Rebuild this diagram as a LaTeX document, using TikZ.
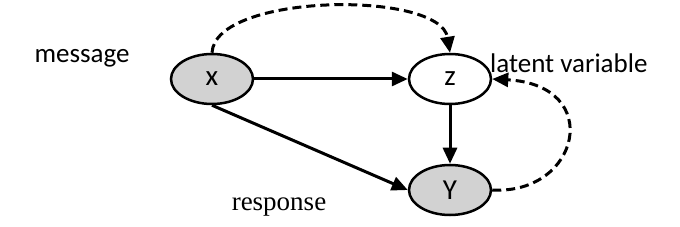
\documentclass[tikz,border=0pt]{standalone}
\usepackage{fontspec}
\setmainfont{Carlito}
\newfontfamily\serifr{Liberation Serif}
\usetikzlibrary{shapes.geometric,arrows.meta}
\definecolor{nodegrey}{RGB}{210,210,210}
\tikzset{
  var/.style={ellipse, draw, line width=2.5pt, minimum width=82pt, minimum height=50pt, inner sep=0pt, font=\fontsize{29}{34}\selectfont},
  obs/.style={var, fill=nodegrey},
  lat/.style={var, fill=white},
  arr/.style={line width=3pt, -{Triangle[length=16pt,width=14pt]}},
  darr/.style={arr, dash pattern=on 9pt off 5pt},
  lbl/.style={inner sep=0pt, font=\fontsize{27}{32}\selectfont}
}
\begin{document}
\begin{tikzpicture}[x=1pt,y=-1pt]
\useasboundingbox (0,0) rectangle (680,227);
\node[obs] (x) at (212,79) {x};
\node[lat] (z) at (450,79) {z};
\node[obs] (y) at (450,190) {Y};
\node[lbl] (msg) at (82,58) {message};
\node[lbl, anchor=west] (lv) at (490,63) {latent variable};
\node[lbl, font=\fontsize{27}{32}\serifr] (resp) at (279,207) {response};
\draw[arr] (x.east) -- (z.west);
\draw[arr] (x.south) -- (y.west);
\draw[arr] (z.south) -- (y.north);
\draw[darr] (x.north) .. controls (215,-7) and (440,-10) .. (z.north);
\draw[darr] (y.east) .. controls (580,195) and (605,85) .. (z.east);
\end{tikzpicture}
\end{document}
